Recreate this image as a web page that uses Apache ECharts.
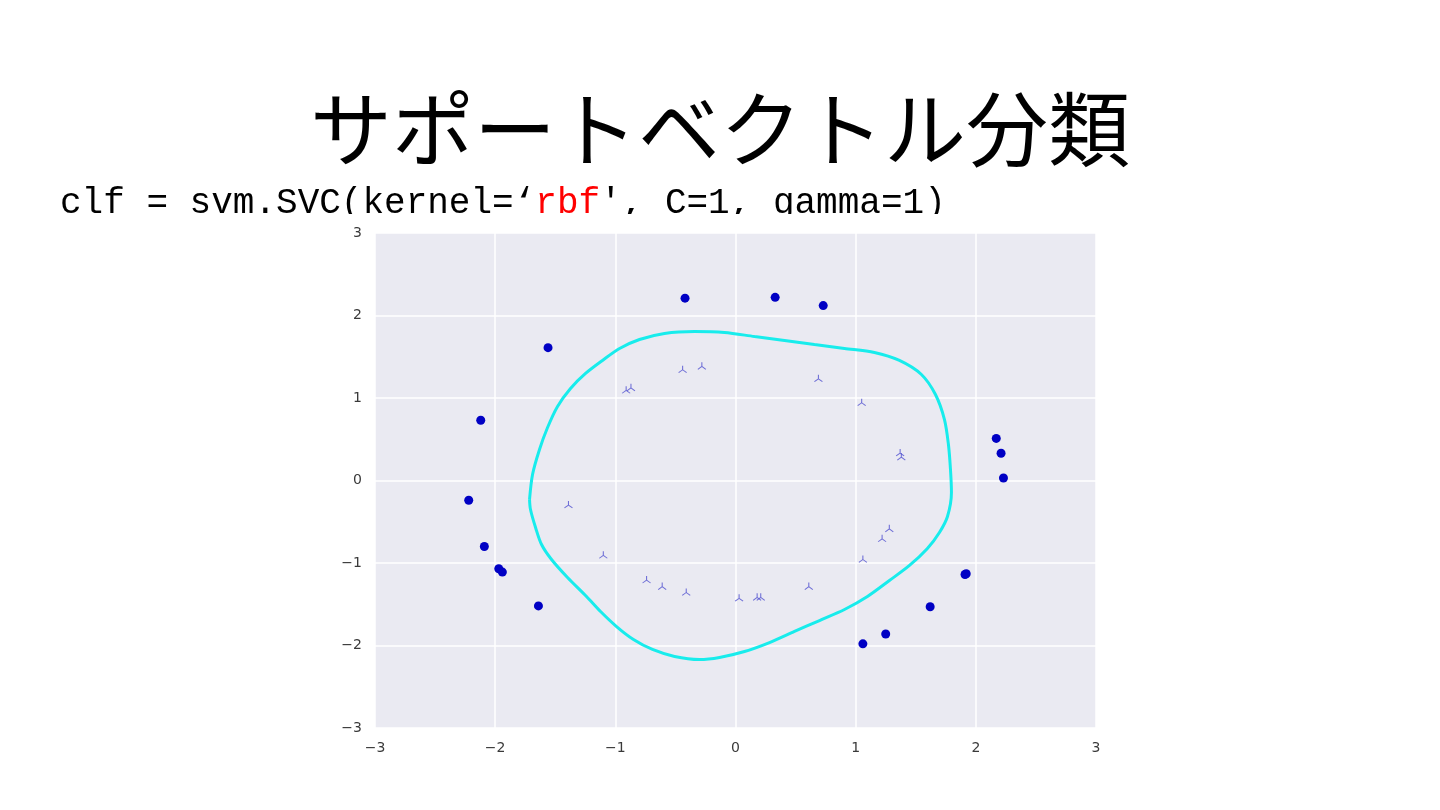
<!DOCTYPE html>
<html>
<head>
<meta charset="utf-8">
<script src="https://cdn.jsdelivr.net/npm/echarts@6/dist/echarts.min.js"></script>
<style>
html,body{margin:0;padding:0;background:#fff;}
#main{width:1440px;height:810px;}
</style>
</head>
<body>
<div id="main"></div>
<script>
// ---- data ----
const titleText = 'サポートベクトル分類';
const codeParts = ['clf = svm.SVC(kernel=‘', 'rbf', "', C=1, gamma=1)"];
const axisTicks = [-3, -2, -1, 0, 1, 2, 3];

// outer class (filled blue dots)
const outerX = [-0.42, 0.33, 0.73, -1.56, -2.12, -2.22, -2.09, -1.97, -1.94, -1.64, 2.17, 2.21, 2.23, 1.91, 1.92, 1.62, 1.25, 1.06];
const outerY = [2.21, 2.22, 2.12, 1.61, 0.73, -0.24, -0.80, -1.07, -1.11, -1.52, 0.51, 0.33, 0.03, -1.14, -1.13, -1.53, -1.86, -1.98];

// inner class (tri markers)
const innerX = [-0.44, -0.28, -0.91, -0.87, 0.69, 1.05, 1.37, 1.38, -1.39, -1.10, -0.74, -0.61, -0.41, 0.03, 0.18, 0.21, 0.61, 1.06, 1.22, 1.28];
const innerY = [1.35, 1.39, 1.10, 1.13, 1.24, 0.95, 0.34, 0.29, -0.29, -0.90, -1.20, -1.28, -1.35, -1.42, -1.41, -1.41, -1.28, -0.95, -0.70, -0.58];

// decision boundary contour
const boundX = [-1.714, -1.689, -1.631, -1.564, -1.481, -1.373, -1.248, -1.107, -0.965, -0.799, -0.591, -0.341, -0.092, 0.158, 0.408, 0.657, 0.907, 1.156, 1.364, 1.547, 1.664, 1.739, 1.772, 1.789, 1.797, 1.764, 1.697, 1.597, 1.448, 1.281, 1.098, 0.907, 0.699, 0.491, 0.283, 0.075, -0.133, -0.300, -0.507, -0.691, -0.849, -0.990, -1.123, -1.240, -1.398, -1.531, -1.614, -1.664, -1.706, -1.714];
const boundY = [-0.230, 0.073, 0.376, 0.642, 0.897, 1.115, 1.297, 1.455, 1.600, 1.709, 1.782, 1.806, 1.794, 1.745, 1.697, 1.648, 1.600, 1.552, 1.455, 1.285, 1.042, 0.739, 0.436, 0.133, -0.145, -0.436, -0.630, -0.824, -1.030, -1.212, -1.406, -1.564, -1.697, -1.830, -1.964, -2.073, -2.145, -2.170, -2.133, -2.048, -1.927, -1.770, -1.588, -1.406, -1.176, -0.958, -0.776, -0.570, -0.352, -0.230];

// ---- chart ----
const zip = (xs, ys) => xs.map((x, i) => [x, ys[i]]);
const fmt = v => String(v).replace('-', '\u2212');

const chart = echarts.init(document.getElementById('main'), null, {renderer: 'canvas'});
const axisCommon = {
  type: 'value', min: axisTicks[0], max: axisTicks[axisTicks.length - 1], interval: 1,
  axisLine: {show: false}, axisTick: {show: false},
  splitLine: {show: true, lineStyle: {color: '#ffffff', width: 1.5}},
  axisLabel: {color: '#3a3a3a', fontSize: 14, fontFamily: 'DejaVu Sans', formatter: fmt, margin: 13}
};

chart.setOption({
  backgroundColor: '#ffffff',
  animation: false,
  title: [
    {
      text: titleText, left: 'center', top: 79,
      textStyle: {fontFamily: 'Noto Sans CJK JP', fontSize: 82, fontWeight: 'normal', color: '#000000', lineHeight: 90}
    },
    {
      text: '{a|' + codeParts[0] + '}{r|' + codeParts[1] + '}{a|' + codeParts[2] + '}',
      left: 55, top: 180,
      textStyle: {
        fontWeight: 'normal',
        rich: {
          a: {fontFamily: 'Liberation Mono', fontSize: 36, fontWeight: 'normal', color: '#000000', lineHeight: 36},
          r: {fontFamily: 'Liberation Mono', fontSize: 36, fontWeight: 'normal', color: '#ff0000', lineHeight: 36}
        }
      }
    }
  ],
  graphic: [
    {type: 'rect', z: 100, shape: {x: 30, y: 214, width: 1000, height: 12}, style: {fill: '#ffffff'}}
  ],
  grid: {left: 375, top: 233, width: 721, height: 495, show: true, backgroundColor: '#eaeaf2', borderWidth: 0},
  xAxis: axisCommon,
  yAxis: axisCommon,
  series: [
    {
      type: 'line', data: zip(boundX, boundY), smooth: 0.3, symbol: 'none',
      lineStyle: {color: '#18ecec', width: 3}, z: 2
    },
    {
      type: 'scatter', data: zip(outerX, outerY), symbol: 'circle', symbolSize: 9,
      itemStyle: {color: '#0000c4', opacity: 1}, z: 3
    },
    {
      type: 'scatter', data: zip(innerX, innerY),
      symbol: 'path://M5 0 L5 5 M5 5 L0.7 8.5 M5 5 L9.3 8.5', symbolSize: [8, 7],
      itemStyle: {color: 'none', borderColor: '#5050d0', borderWidth: 1}, z: 3
    }
  ]
});
</script>
</body>
</html>
